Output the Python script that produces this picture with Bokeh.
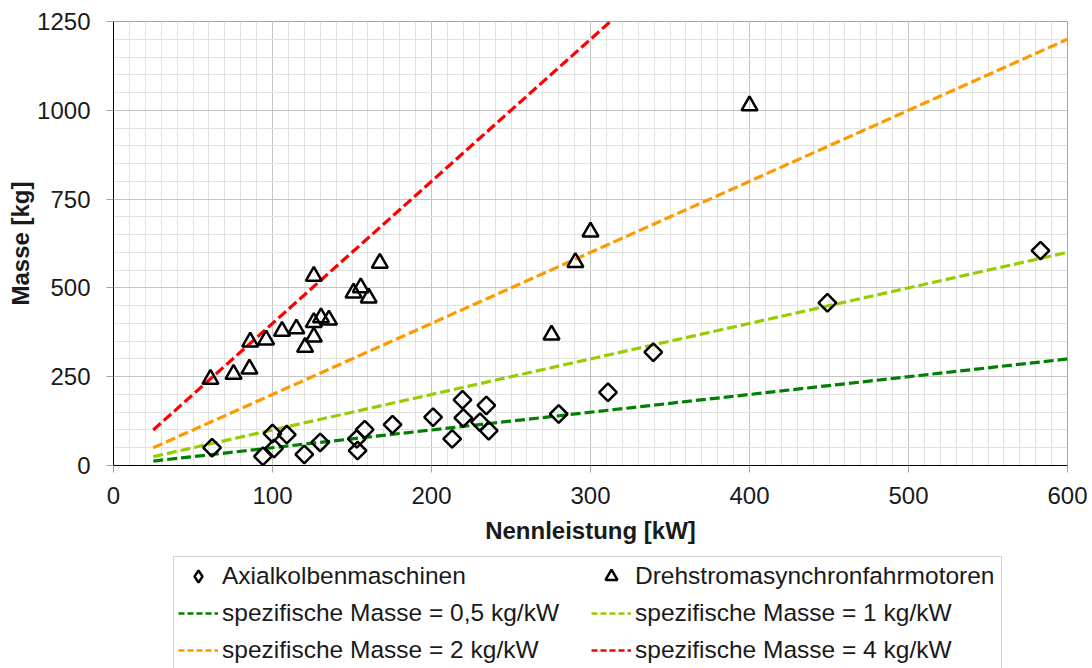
from bokeh.plotting import figure
from bokeh.layouts import column
from bokeh.models import Range1d, SingleIntervalTicker, Legend, LegendItem
from bokeh.embed import file_html
from bokeh.resources import INLINE

# Axialkolbenmaschinen (kW, kg)
axial_kw = [62, 100, 109, 101, 94, 120, 130, 153, 158, 153.5, 175.5, 201, 219.5, 220,
            213, 234.5, 230.5, 236, 280, 311, 339.5, 449, 583]
axial_kg = [50, 90, 87, 48, 26, 31, 65, 75, 101, 42, 115, 136, 185, 134,
            75, 169, 122, 98, 145, 206, 319, 458, 605]

# Drehstromasynchronfahrmotoren (kW, kg)
dreh_kw = [61, 75.5, 85.5, 86, 96, 106, 115, 120.5, 126, 126, 130.5, 135.5, 126,
           151, 155.5, 160.5, 167.5, 275.5, 290.5, 300, 400]
dreh_kg = [243, 257, 272, 348, 354, 378, 385, 333, 362, 403, 416, 410, 533,
           486, 501, 472, 570, 368, 572, 658, 1013]

# Spezifische Masse lines
line_kw = [25, 600]
spec_labels = ["spezifische Masse = 0,5 kg/kW", "spezifische Masse = 1 kg/kW",
               "spezifische Masse = 2 kg/kW", "spezifische Masse = 4 kg/kW"]
spec_mass_kg = [[12.5, 300], [25, 600], [50, 1200], [100, 2400]]
spec_colors = ["#008000", "#99cc00", "#ff9900", "#ff0000"]

x_ticks_interval = 100
y_ticks_interval = 250

FONT = "Liberation Sans"
TXT = "#1a1a1a"

DIAMOND = dict(marker="square", angle=0.785398, size=12.5, fill_color=None,
               line_color="black", line_width=2.5)
TRIANGLE = dict(marker="triangle", size=16, fill_color=None,
                line_color="black", line_width=2.5)
LINE = dict(line_width=3.2, line_dash="10 4")

p = figure(width=1092, height=555, x_range=Range1d(0, 600), y_range=Range1d(0, 1250),
           output_backend="svg", toolbar_location=None,
           min_border_left=113, min_border_right=25, min_border_top=21, min_border_bottom=90)
p.background_fill_color = "white"
p.border_fill_color = "white"
p.outline_line_color = "#a6a6a6"
p.outline_line_width = 1

p.xaxis.ticker = SingleIntervalTicker(interval=x_ticks_interval, num_minor_ticks=10)
p.yaxis.ticker = SingleIntervalTicker(interval=y_ticks_interval, num_minor_ticks=5)

for ax in (p.xaxis, p.yaxis):
    ax.axis_line_color = "black"
    ax.axis_line_width = 1
    ax.major_tick_in = 0
    ax.major_tick_out = 7
    ax.major_tick_line_color = "#a6a6a6"
    ax.minor_tick_line_color = None
    ax.major_label_text_font = FONT
    ax.major_label_text_font_size = "24px"
    ax.major_label_text_color = TXT
    ax.axis_label_text_font = FONT
    ax.axis_label_text_font_size = "24px"
    ax.axis_label_text_font_style = "bold"
    ax.axis_label_text_color = TXT

p.xaxis.axis_label = "Nennleistung [kW]"
p.yaxis.axis_label = "Masse [kg]"
p.xaxis.major_label_standoff = 14
p.xaxis.axis_label_standoff = 10
p.yaxis.major_label_standoff = 16
p.yaxis.axis_label_standoff = 0

for g in (p.xgrid, p.ygrid):
    g.grid_line_color = "#c4c4c4"
    g.grid_line_width = 1
    g.minor_grid_line_color = "#e2e2e2"
    g.minor_grid_line_width = 1

for ys, col in zip(spec_mass_kg, spec_colors):
    p.line(line_kw, ys, line_color=col, **LINE)

p.scatter(axial_kw, axial_kg, **DIAMOND)
p.scatter(dreh_kw, dreh_kg, **TRIANGLE)

# Legend panel: a second figure whose frame is aligned with the chart's frame.
# Its renderers carry the same data, but its ranges lie outside the data,
# so only the legend is visible there.
lg = figure(width=1092, height=113, x_range=Range1d(-3, -2), y_range=Range1d(-3, -2),
            output_backend="svg", toolbar_location=None,
            x_axis_type=None, y_axis_type=None,
            min_border_left=113, min_border_right=25, min_border_top=0, min_border_bottom=0)
lg.outline_line_color = None
lg.xgrid.visible = False
lg.ygrid.visible = False
lg.background_fill_color = "white"
lg.border_fill_color = "white"

r_axial = lg.scatter(axial_kw, axial_kg, marker="diamond", size=12, fill_color=None,
                     line_color="black", line_width=2.4)
r_dreh = lg.scatter(dreh_kw, dreh_kg, marker="triangle", size=12, fill_color=None,
                    line_color="black", line_width=2.4)
line_renderers = [lg.line(line_kw, ys, line_color=col, line_width=2.4, line_dash="6 3")
                  for ys, col in zip(spec_mass_kg, spec_colors)]

items = [
    LegendItem(label="Axialkolbenmaschinen", renderers=[r_axial]),
    LegendItem(label="Drehstromasynchronfahrmotoren", renderers=[r_dreh]),
]
for lab, r in zip(spec_labels, line_renderers):
    items.append(LegendItem(label=lab, renderers=[r]))

legend = Legend(items=items, orientation="horizontal", ncols=2,
                location=(60, -2), margin=0,
                label_text_font=FONT, label_text_font_size="24.5px", label_text_color=TXT,
                glyph_width=40, glyph_height=30, label_height=30, label_width=362,
                label_standoff=4, spacing=7, padding=4,
                border_line_color="#a6a6a6", border_line_width=1,
                background_fill_color="white", background_fill_alpha=1)
lg.add_layout(legend)

layout = column(p, lg, spacing=0)
open("out.html", "w").write(file_html(layout, INLINE))
